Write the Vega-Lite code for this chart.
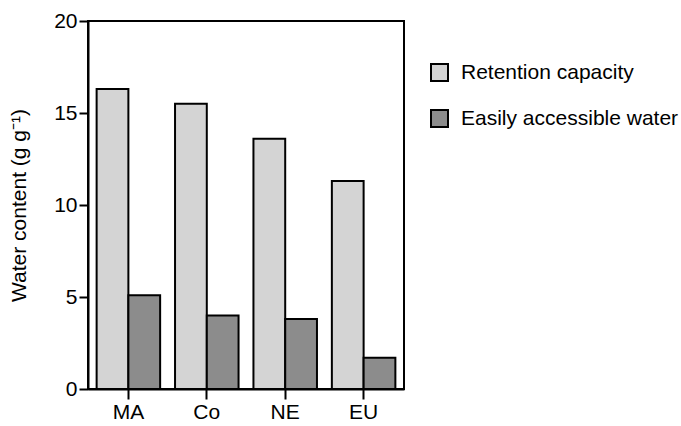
{
  "$schema": "https://vega.github.io/schema/vega-lite/v6.json",
  "autosize": "none",
  "padding": {"left": 88, "top": 21, "right": 277, "bottom": 37},
  "width": 316,
  "height": 368,
  "background": "white",
  "config": {
    "font": "Liberation Sans",
    "view": {"stroke": "black", "strokeWidth": 2},
    "axis": {"domainColor": "black", "domainWidth": 2, "tickColor": "black", "tickWidth": 2, "labelColor": "black", "titleColor": "black", "grid": false, "labelFont": "Liberation Sans", "titleFont": "Liberation Sans"}
  },
  "data": {
    "values": [
      {"site": "MA", "type": "Retention capacity", "value": 16.3},
      {"site": "MA", "type": "Easily accessible water", "value": 5.1},
      {"site": "Co", "type": "Retention capacity", "value": 15.5},
      {"site": "Co", "type": "Easily accessible water", "value": 4.0},
      {"site": "NE", "type": "Retention capacity", "value": 13.6},
      {"site": "NE", "type": "Easily accessible water", "value": 3.8},
      {"site": "EU", "type": "Retention capacity", "value": 11.3},
      {"site": "EU", "type": "Easily accessible water", "value": 1.7}
    ]
  },
  "mark": {"type": "bar", "stroke": "black", "strokeWidth": 2},
  "encoding": {
    "x": {
      "field": "site", "type": "nominal", "sort": ["MA", "Co", "NE", "EU"],
      "scale": {"paddingInner": 0.19, "paddingOuter": 0.11},
      "axis": {"title": null, "labelAngle": 0, "labelFontSize": 21, "tickSize": 10, "labelPadding": 2}
    },
    "xOffset": {"field": "type", "type": "nominal", "sort": ["Retention capacity", "Easily accessible water"]},
    "y": {
      "field": "value", "type": "quantitative",
      "scale": {"domain": [0, 20], "nice": false},
      "axis": {"title": "Water content (g g⁻¹)", "values": [0, 5, 10, 15, 20], "labelFontSize": 21, "tickSize": 9, "labelPadding": 2, "titleFontSize": 21, "titleFontWeight": "normal", "titlePadding": 24}
    },
    "color": {
      "field": "type", "type": "nominal", "sort": ["Retention capacity", "Easily accessible water"],
      "scale": {"range": ["#d4d4d4", "#8c8c8c"]},
      "legend": {"title": null, "orient": "none", "legendX": 341, "legendY": 41, "symbolType": "square", "symbolSize": 289, "symbolStrokeColor": "black", "symbolStrokeWidth": 2, "labelFontSize": 21, "labelLimit": 400, "labelColor": "black", "rowPadding": 21, "labelOffset": 11}
    }
  }
}
